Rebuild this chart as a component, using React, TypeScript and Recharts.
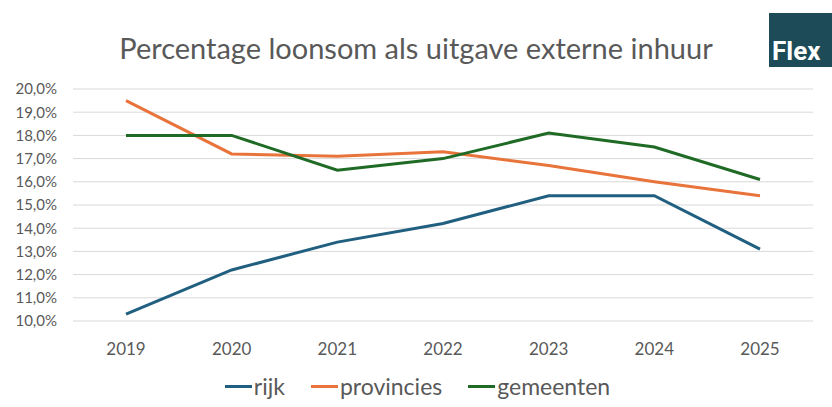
import React from "react";
import { LineChart, Line, XAxis, YAxis, CartesianGrid, Legend } from "recharts";

const years = ["2019", "2020", "2021", "2022", "2023", "2024", "2025"];
const rijk = [10.3, 12.2, 13.4, 14.2, 15.4, 15.4, 13.1];
const provincies = [19.5, 17.2, 17.1, 17.3, 16.7, 16.0, 15.4];
const gemeenten = [18.0, 18.0, 16.5, 17.0, 18.1, 17.5, 16.1];
const yTicks = [10, 11, 12, 13, 14, 15, 16, 17, 18, 19, 20];

const seriesInfo = [
  { key: "rijk", name: "rijk", color: "#215F80" },
  { key: "provincies", name: "provincies", color: "#E8743B" },
  { key: "gemeenten", name: "gemeenten", color: "#1F6B25" },
];

const data = years.map((y, i) => ({
  year: y,
  rijk: rijk[i],
  provincies: provincies[i],
  gemeenten: gemeenten[i],
}));

const FONT = "Lato, 'Open Sans', sans-serif";

const LegendContent = () => (
  <div style={{ display: "flex", justifyContent: "center", alignItems: "center", fontFamily: FONT, fontSize: 23, color: "#595959", marginTop: 3, paddingLeft: 22 }}>
    {seriesInfo.map((s) => (
      <div key={s.key} style={{ display: "flex", alignItems: "center", margin: "0 13px" }}>
        <span style={{ display: "inline-block", width: 27, height: 3, background: s.color, marginRight: 2 }} />
        <span>{s.name}</span>
      </div>
    ))}
  </div>
);

export default function App() {
  return (
    <div style={{ position: "absolute", left: 0, top: 0, width: 832, height: 407, background: "#fff", overflow: "hidden" }}>
      <div style={{ position: "absolute", left: 0, top: 30, width: 832, textAlign: "center", fontFamily: FONT, fontSize: 29, color: "#595959" }}>
        Percentage loonsom als uitgave externe inhuur
      </div>
      <div style={{ position: "absolute", left: 769, top: 13, width: 63, height: 54, background: "#1D4B57" }}>
        <div style={{ position: "absolute", left: 3, top: 24, lineHeight: "28px", color: "#fff", fontFamily: "Roboto, sans-serif", fontWeight: 700, fontSize: 26 }}>Flex</div>
      </div>
      <LineChart width={832} height={407} data={data} margin={{ top: 89, right: 19, bottom: 0, left: 0 }}>
        <CartesianGrid vertical={false} stroke="#D9D9D9" strokeWidth={1} />
        <XAxis
          dataKey="year"
          axisLine={false}
          tickLine={false}
          tickMargin={16}
          height={86 - 38}
          padding={{ left: 53, right: 53 }}
          tick={{ fill: "#595959", fontSize: 17, fontFamily: FONT }}
          interval={0}
        />
        <YAxis
          domain={[10, 20]}
          ticks={yTicks}
          width={73}
          axisLine={false}
          tickLine={false}
          tickMargin={10}
          tickFormatter={(v: number) => v.toFixed(1).replace(".", ",") + "%"}
          tick={{ fill: "#595959", fontSize: 15, fontFamily: FONT }}
          interval={0}
        />
        <Legend verticalAlign="bottom" height={38} content={LegendContent} />
        {seriesInfo.map((s) => (
          <Line
            key={s.key}
            dataKey={s.key}
            name={s.name}
            stroke={s.color}
            strokeWidth={3}
            dot={false}
            isAnimationActive={false}
            type="linear"
          />
        ))}
      </LineChart>
    </div>
  );
}
